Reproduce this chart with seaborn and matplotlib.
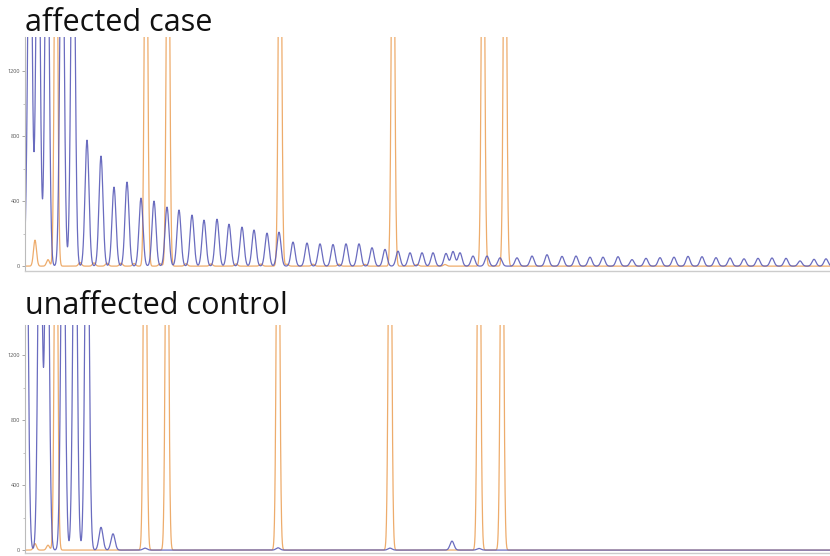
import numpy as np
import pandas as pd
import matplotlib
matplotlib.use("Agg")
import matplotlib.pyplot as plt
import seaborn as sns

sns.set_theme(style="white")
plt.rcParams['font.family'] = ['Open Sans', 'DejaVu Sans']

# ---------------- data (peak positions in size units, heights in RFU) ----------------
panel_titles = ["affected case", "unaffected control"]
y_ticks_major = [0, 400, 800, 1200]
y_ticks_minor = [200, 600, 1000]

# affected case - blue (repeat-primed PCR ladder)
case_blue_pos = [2, 5, 13, 22, 37, 48,
                 62, 76, 89, 102, 116, 129, 142, 154, 167, 179, 192, 204, 217, 229, 242, 254,
                 268, 282, 295, 308, 321, 334, 347, 360, 373, 385, 397, 408, 421, 428, 435,
                 448, 462, 475, 492, 507, 522, 537, 551, 565, 578, 593, 607, 621, 635, 649,
                 663, 677, 691, 705, 719, 733, 747, 761, 775, 789, 801]
case_blue_h = [120, 2600, 2600, 2600, 2600, 2600,
               775, 677, 486, 517, 418, 400, 363, 345, 314, 283, 289, 258, 240, 222, 203, 209,
               148, 142, 137, 133, 137, 137, 113, 103, 92, 82, 82, 82, 78, 90, 82,
               62, 62, 51, 51, 62, 70, 60, 62, 55, 55, 58, 40, 48, 52, 55,
               60, 58, 52, 50, 45, 48, 50, 48, 32, 42, 45]
# affected case - orange (size standard + small bleed-through bumps)
case_orange_pos = [10, 23, 31, 121, 143, 255, 368, 458, 480,
                   55, 69, 82, 96, 109, 135, 161, 186, 211, 236, 262, 288, 314, 340, 392, 420]
case_orange_h = [160, 40, 3000, 3000, 3000, 3000, 3000, 3000, 3000,
                 22, 20, 18, 18, 16, 15, 15, 14, 14, 13, 12, 12, 12, 11, 10, 10]

# unaffected control - blue
ctrl_blue_pos = [1, 15, 22, 38, 50, 62, 76, 88, 427, 120, 253, 365, 454]
ctrl_blue_h = [2600, 2600, 2600, 2600, 2600, 2600, 140, 100, 55, 12, 14, 12, 10]
# unaffected control - orange
ctrl_orange_pos = [10, 23, 31, 120, 142, 253, 365, 454, 477]
ctrl_orange_h = [40, 30, 3000, 3000, 3000, 3000, 3000, 3000, 3000]

BLUE_SIGMA = 2.0
ORANGE_SIGMA = 1.5
X_MAX = 805


def trace(pos, h, x, sigma):
    y = np.zeros_like(x)
    for p, a in zip(pos, h):
        y += a * np.exp(-0.5 * ((x - p) / sigma) ** 2)
    return y


x = np.arange(0, X_MAX + 0.05, 0.1)

fig = plt.figure(figsize=(8.3, 5.56), dpi=100)
W, H = 830, 556


def make_ax(top_px, bottom_px, ylo, yhi):
    ax = fig.add_axes([25 / W, (H - bottom_px) / H, (W - 25) / W, (bottom_px - top_px) / H])
    ax.set_xlim(0, X_MAX)
    ax.set_ylim(ylo, yhi)
    return ax


panels = [
    (make_ax(37, 271, -30, 1410), case_blue_pos, case_blue_h, case_orange_pos, case_orange_h),
    (make_ax(325, 553, -18, 1385), ctrl_blue_pos, ctrl_blue_h, ctrl_orange_pos, ctrl_orange_h),
]

blue = "#5a5cb8"
orange = "#eca35c"

for (ax, bp, bh, op, oh), title in zip(panels, panel_titles):
    df = pd.DataFrame({
        "x": np.concatenate([x, x]),
        "rfu": np.concatenate([trace(op, oh, x, ORANGE_SIGMA), trace(bp, bh, x, BLUE_SIGMA)]),
        "dye": ["orange"] * len(x) + ["blue"] * len(x),
    })
    sns.lineplot(data=df, x="x", y="rfu", hue="dye", hue_order=["orange", "blue"],
                 palette={"blue": blue, "orange": orange}, linewidth=0.9,
                 legend=False, ax=ax, estimator=None, sort=False, alpha=0.9)
    ax.set_xlabel("")
    ax.set_ylabel("")
    ax.set_xticks([])
    ax.set_yticks(y_ticks_major)
    ax.set_yticks(y_ticks_minor, minor=True)
    ax.set_yticklabels([str(v) for v in y_ticks_major])
    ax.tick_params(axis="y", which="major", length=2.5, width=0.6, color="#999999",
                   labelsize=4, labelcolor="#555555", pad=1, left=True)
    ax.tick_params(axis="y", which="minor", length=1.5, width=0.5, color="#aaaaaa", left=True)
    for s in ["top", "right"]:
        ax.spines[s].set_visible(False)
    ax.spines["left"].set_color("#bbbbbb")
    ax.spines["left"].set_linewidth(0.8)
    ax.spines["bottom"].set_color("#cccccc")
    ax.spines["bottom"].set_linewidth(1.0)
    ax.set_facecolor("white")

fig.text(25 / W, 1 - 31 / H, panel_titles[0], fontsize=22, color="#111111", ha="left", va="baseline")
fig.text(25 / W, 1 - 314 / H, panel_titles[1], fontsize=22, color="#111111", ha="left", va="baseline")

fig.savefig("out.png", dpi=100, facecolor="white")
